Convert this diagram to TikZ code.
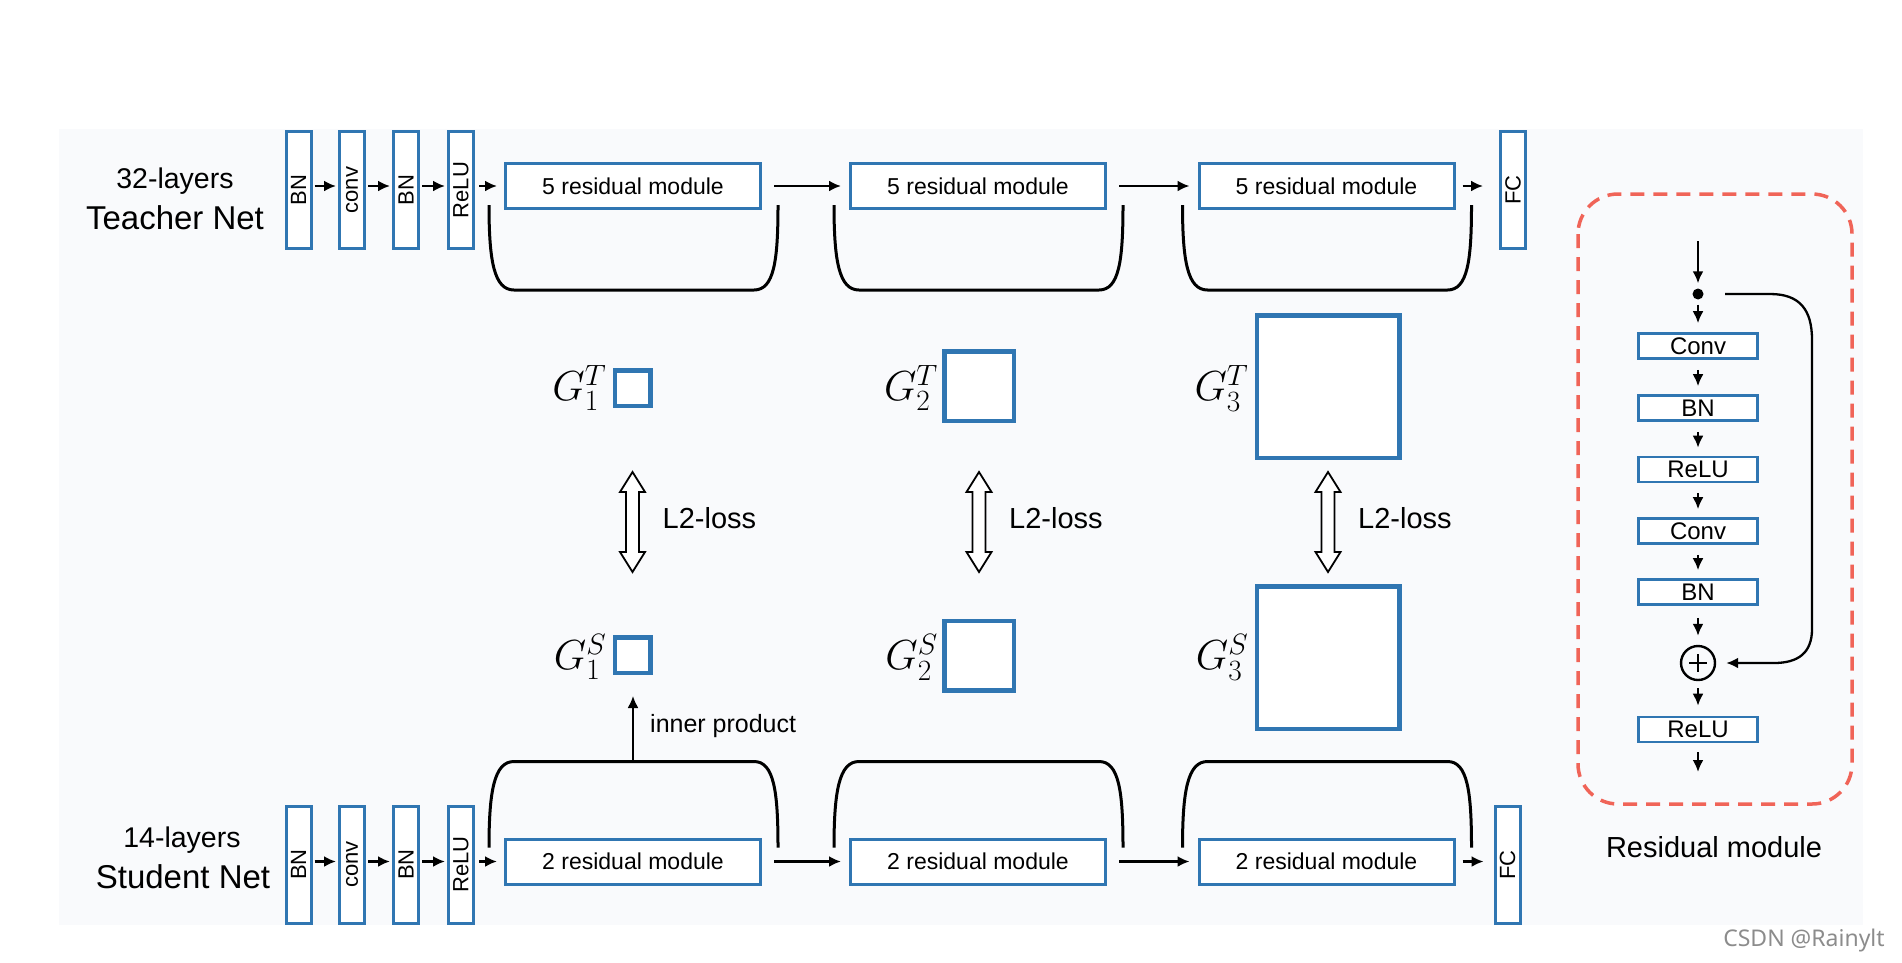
\RequirePackage{fix-cm}
\documentclass[tikz,border=0pt]{standalone}
\usepackage{graphicx}
\usepackage[no-math]{fontspec}
\setmainfont{Liberation Sans}
\newfontfamily\wmfont{Noto Sans}
\usetikzlibrary{arrows.meta,calc}
\definecolor{boxblue}{RGB}{48,118,178}
\definecolor{dashred}{RGB}{240,100,88}
\definecolor{bgc}{RGB}{249,250,252}
\newcommand{\fsz}[1]{\fontsize{#1}{#1}\selectfont}
\newcommand{\tbracket}[1]{\draw[br] ($(#1.west)+(-15,19)$) .. controls ($(#1.west)+(-15,75)$) and ($(#1.west)+(-10,104)$) .. ($(#1.west)+(10,104)$) -- ($(#1.east)+(-8,104)$) .. controls ($(#1.east)+(12,104)$) and ($(#1.east)+(16,75)$) .. ($(#1.east)+(16,19)$);}
\newcommand{\sbracket}[1]{\draw[br] ($(#1.west)+(-15,-14)$) .. controls ($(#1.west)+(-15,-70)$) and ($(#1.west)+(-10,-100)$) .. ($(#1.west)+(10,-100)$) -- ($(#1.east)+(-8,-100)$) .. controls ($(#1.east)+(12,-100)$) and ($(#1.east)+(16,-70)$) .. ($(#1.east)+(16,-14)$);}
\newcommand{\dblarrow}[1]{\draw[line width=1.8pt, fill=white, line join=miter] ($(#1)+(0,-50)$) -- ++(12.5,20) -- ++(-6,0) -- ++(0,60) -- ++(6,0) -- ++(-12.5,20) -- ++(-12.5,-20) -- ++(6,0) -- ++(0,-60) -- ++(-6,0) -- cycle;}
\begin{document}
\begin{tikzpicture}[x=1pt,y=-1pt,
  bx/.style={draw=boxblue, line width=3pt, fill=white, inner sep=0pt},
  tallbox/.style={bx, minimum width=25pt, minimum height=117pt, font=\fsz{22}},
  modbox/.style={bx, minimum width=255pt, minimum height=45pt, font=\fsz{23}},
  gram/.style={draw=boxblue, line width=4.5pt, fill=white, inner sep=0pt},
  glabel/.style={anchor=east, inner sep=0pt, font=\fsz{42}},
  resbox/.style={draw=boxblue, line width=2.6pt, fill=white, inner sep=0pt, minimum width=119pt, minimum height=25pt, font=\fsz{24}},
  arr/.style={line width=2.3pt, -{Latex[length=12pt,width=11pt]}},
  br/.style={line width=3pt},
  lbl/.style={inner sep=0pt}]
\useasboundingbox (0,0) rectangle (1902,962);
\fill[bgc] (59,129) rectangle (1863,925);

% ---------- Teacher row ----------
\node[lbl, font=\fsz{28.5}] (tl1) at (175,181) {32-layers};
\node[lbl, font=\fsz{33}] (tl2) at (175,218) {Teacher Net};
\node[tallbox] (tbn1) at (298.5,190) {\rotatebox{90}{BN}};
\node[tallbox] (tconv) at (352,190) {\rotatebox{90}{conv}};
\node[tallbox] (tbn2) at (406,190) {\rotatebox{90}{BN}};
\node[tallbox] (trelu) at (461,190) {\rotatebox{90}{ReLU}};
\node[modbox] (tm1) at (633,186) {5 residual module};
\node[modbox] (tm2) at (978,186) {5 residual module};
\node[modbox] (tm3) at (1326.5,186) {5 residual module};
\node[tallbox] (tfc) at (1513,190) {\rotatebox{90}{FC}};
\draw[arr, shorten <=2pt, shorten >=2pt] (tbn1.east |- tm1) -- (tconv.west |- tm1);
\draw[arr, shorten <=2pt, shorten >=2pt] (tconv.east |- tm1) -- (tbn2.west |- tm1);
\draw[arr, shorten <=2pt, shorten >=2pt] (tbn2.east |- tm1) -- (trelu.west |- tm1);
\draw[arr, shorten <=4pt, shorten >=7pt] (trelu.east |- tm1) -- (tm1.west);
\draw[arr, shorten <=12pt, shorten >=8pt] (tm1.east) -- (tm2.west);
\draw[arr, shorten <=12pt, shorten >=8pt] (tm2.east) -- (tm3.west);
\draw[arr, shorten <=7pt, shorten >=16pt] (tm3.east) -- (tfc.west |- tm3);
\tbracket{tm1}
\tbracket{tm2}
\tbracket{tm3}

% ---------- Student row ----------
\node[lbl, font=\fsz{28.5}] (sl1) at (182,840) {14-layers};
\node[lbl, font=\fsz{33}] (sl2) at (183,877) {Student Net};
\node[tallbox] (sbn1) at (298.5,864.5) {\rotatebox{90}{BN}};
\node[tallbox] (sconv) at (352,864.5) {\rotatebox{90}{conv}};
\node[tallbox] (sbn2) at (406,864.5) {\rotatebox{90}{BN}};
\node[tallbox] (srelu) at (461,864.5) {\rotatebox{90}{ReLU}};
\node[modbox] (sm1) at (633,861.5) {2 residual module};
\node[modbox] (sm2) at (978,861.5) {2 residual module};
\node[modbox] (sm3) at (1326.5,861.5) {2 residual module};
\node[tallbox] (sfc) at (1507.5,865) {\rotatebox{90}{FC}};
\draw[arr, shorten <=2pt, shorten >=2pt] (sbn1.east |- sm1) -- (sconv.west |- sm1);
\draw[arr, shorten <=2pt, shorten >=2pt] (sconv.east |- sm1) -- (sbn2.west |- sm1);
\draw[arr, shorten <=2pt, shorten >=2pt] (sbn2.east |- sm1) -- (srelu.west |- sm1);
\draw[arr, shorten <=4pt, shorten >=7pt] (srelu.east |- sm1) -- (sm1.west);
\draw[arr, shorten <=12pt, shorten >=8pt] (sm1.east) -- (sm2.west);
\draw[arr, shorten <=12pt, shorten >=8pt] (sm2.east) -- (sm3.west);
\draw[arr, shorten <=7pt, shorten >=10pt] (sm3.east) -- (sfc.west |- sm3);
\sbracket{sm1}
\sbracket{sm2}
\sbracket{sm3}

% ---------- Gram matrices ----------
\node[gram, minimum size=35.5pt] (g1t) at (632.5,388) {};
\node[gram, minimum size=35.5pt] (g1s) at (632.5,655) {};
\node[gram, minimum size=69.5pt] (g2t) at (979,386) {};
\node[gram, minimum size=69.5pt] (g2s) at (979,655.5) {};
\node[gram, minimum size=142.5pt] (g3t) at (1328,386.5) {};
\node[gram, minimum size=142.5pt] (g3s) at (1328,657.5) {};
\node[glabel] at ($(g1t.west)+(-6,0)$) {$G_1^T$};
\node[glabel] at ($(g1s.west)+(-6,2)$) {$G_1^S$};
\node[glabel] at ($(g2t.west)+(-4,2)$) {$G_2^T$};
\node[glabel] at ($(g2s.west)+(-4,2)$) {$G_2^S$};
\node[glabel] at ($(g3t.west)+(-6,2)$) {$G_3^T$};
\node[glabel] at ($(g3s.west)+(-6,0)$) {$G_3^S$};

\coordinate (l2a) at (632.5,522);
\coordinate (l2b) at (979,522);
\coordinate (l2c) at (1328,522);
\dblarrow{l2a}
\dblarrow{l2b}
\dblarrow{l2c}
\node[lbl, anchor=west, font=\fsz{29}] at ($(l2a)+(30,-4)$) {L2-loss};
\node[lbl, anchor=west, font=\fsz{29}] at ($(l2b)+(30,-4)$) {L2-loss};
\node[lbl, anchor=west, font=\fsz{29}] at ($(l2c)+(30,-4)$) {L2-loss};

\coordinate (ip) at ($(sm1.center)+(0,-100)$);
\draw[arr, line width=2pt, shorten >=21pt] (ip) -- (ip |- g1s.south);
\node[lbl, anchor=west, font=\fsz{25}] at ($(ip)+(17,-35)$) {inner product};

% ---------- Residual module panel ----------
\draw[dashred, line width=3.5pt, dash pattern=on 14pt off 9pt, rounded corners=40pt] (1578,194) rectangle (1852,804);
\coordinate (rin) at (1698,241);
\node[circle, fill=black, inner sep=0pt, minimum size=11pt] (dot) at (1698,294) {};
\node[resbox] (rc1) at (1698,346) {Conv};
\node[resbox] (rb1) at (1698,408) {BN};
\node[resbox] (rr1) at (1698,469.5) {ReLU};
\node[resbox] (rc2) at (1698,531) {Conv};
\node[resbox] (rb2) at (1698,592) {BN};
\node[circle, draw, line width=2.4pt, minimum size=34pt, inner sep=0pt] (plus) at (1698,663) {};
\draw[line width=2.4pt] ($(plus.center)+(-9,0)$) -- ($(plus.center)+(9,0)$);
\draw[line width=2.4pt] ($(plus.center)+(0,-9)$) -- ($(plus.center)+(0,9)$);
\node[resbox] (rr2) at (1698,729.5) {ReLU};
\coordinate (rout) at (1698,772);
\draw[arr, shorten >=5pt] (rin) -- (dot);
\draw[arr, shorten <=5pt, shorten >=9pt] (dot) -- (rc1);
\draw[arr, shorten <=10pt, shorten >=8pt] (rc1) -- (rb1);
\draw[arr, shorten <=10pt, shorten >=8pt] (rb1) -- (rr1);
\draw[arr, shorten <=10pt, shorten >=8pt] (rr1) -- (rc2);
\draw[arr, shorten <=10pt, shorten >=8pt] (rc2) -- (rb2);
\draw[arr, shorten <=12pt, shorten >=9pt] (rb2) -- (plus);
\draw[arr, shorten <=7pt, shorten >=10pt] (plus) -- (rr2);
\draw[arr, shorten <=9pt] (rr2) -- (rout);
\draw[arr, shorten >=10pt] ($(dot)+(27,0)$) -- ($(dot)+(72,0)$) .. controls ($(dot)+(102,0)$) and ($(dot)+(114,16)$) .. ($(dot)+(114,46)$) -- ($(plus)+(114,-34)$) .. controls ($(plus)+(114,-10)$) and ($(plus)+(100,0)$) .. ($(plus)+(76,0)$) -- (plus.east);
\node[lbl, font=\fsz{29}] (rtitle) at (1714,847) {Residual module};

% ---------- watermark ----------
\node[lbl, font=\wmfont\fsz{23}, text=black!45] at (1804,941) {CSDN @Rainylt};
\end{tikzpicture}
\end{document}
